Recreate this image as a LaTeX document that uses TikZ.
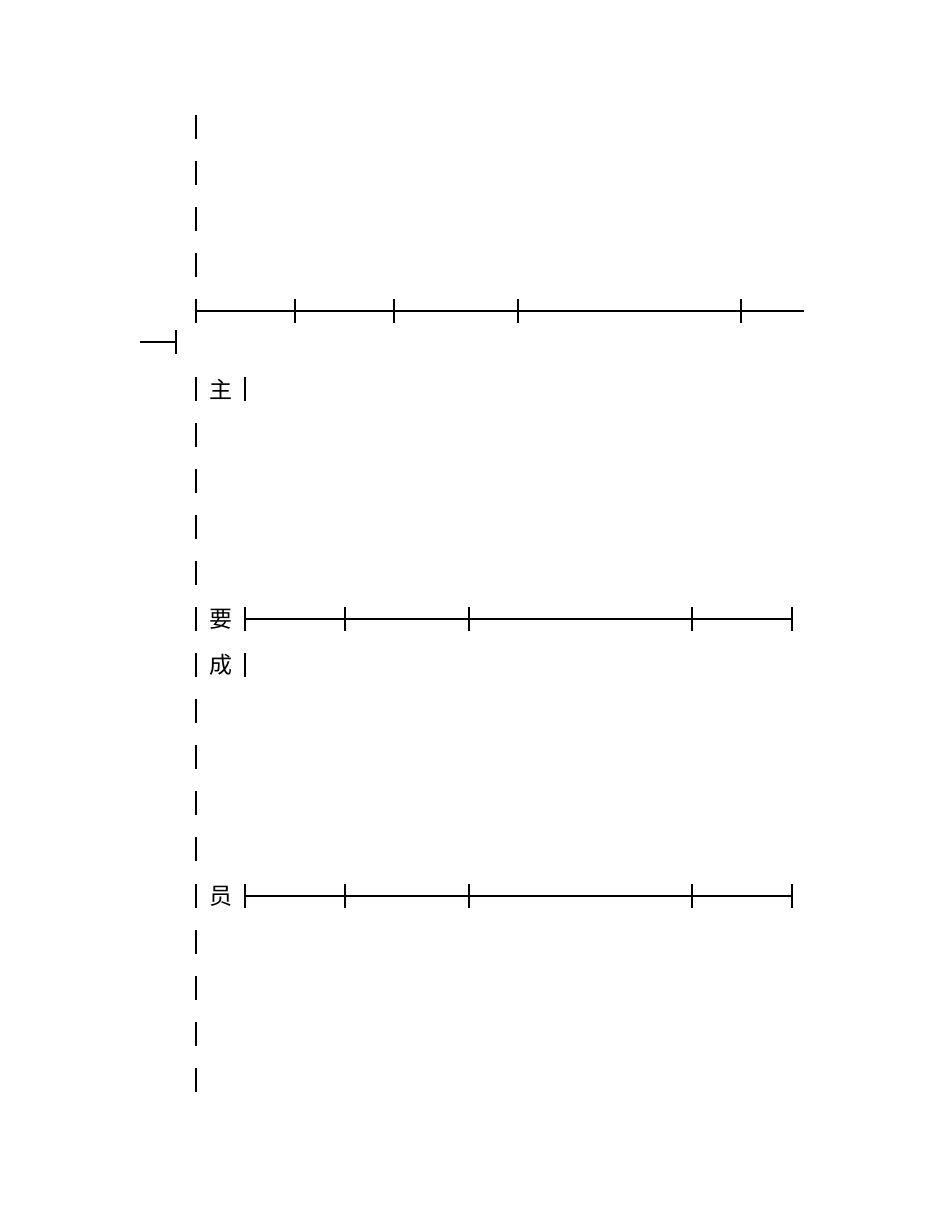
\documentclass[tikz,border=0pt]{standalone}
\usepackage{fontspec}
\newfontfamily\cjk{Noto Sans CJK SC}

\begin{document}
\begin{tikzpicture}[
  x=1pt, y=-1pt,
  bar/.style={line width=1.6pt},
  rule/.style={line width=1.6pt},
  cell/.style={font=\cjk\fontsize{23}{23}\selectfont, inner sep=0pt}
]
\useasboundingbox (0,0) rectangle (950,1230);

% top rows
\draw[bar] (196,115) -- (196,139);
\draw[bar] (196,161) -- (196,185);
\draw[bar] (196,207) -- (196,231);
\draw[bar] (196,253) -- (196,277);

% first ruled row
\coordinate (r1a) at (196,311);
\coordinate (r1b) at (804,311);
\draw[rule] (r1a) -- (r1b);
\draw[bar] (196,299) -- (196,323);
\draw[bar] (295,299) -- (295,323);
\draw[bar] (394,299) -- (394,323);
\draw[bar] (518,299) -- (518,323);
\draw[bar] (741,299) -- (741,323);

\coordinate (r0a) at (140,342);
\coordinate (r0b) at (176,342);
\draw[rule] (r0a) -- (r0b);
\draw[bar] (176,330) -- (176,354);

% zhu
\node[cell] (zhu) at (221,389) {主};
\draw[bar] (196,377) -- (196,401);
\draw[bar] (245,377) -- (245,401);

\draw[bar] (196,423) -- (196,447);
\draw[bar] (196,469) -- (196,493);
\draw[bar] (196,515) -- (196,539);
\draw[bar] (196,561) -- (196,585);

% yao
\node[cell] (yao) at (221,619) {要};
\draw[bar] (196,607) -- (196,631);
\coordinate (r2a) at (245,619);
\coordinate (r2b) at (792,619);
\draw[rule] (r2a) -- (r2b);
\draw[bar] (245,607) -- (245,631);
\draw[bar] (345,607) -- (345,631);
\draw[bar] (469,607) -- (469,631);
\draw[bar] (692,607) -- (692,631);
\draw[bar] (792,607) -- (792,631);

% cheng
\node[cell] (cheng) at (221,665) {成};
\draw[bar] (196,653) -- (196,677);
\draw[bar] (245,653) -- (245,677);

\draw[bar] (196,699) -- (196,723);
\draw[bar] (196,745) -- (196,769);
\draw[bar] (196,791) -- (196,815);
\draw[bar] (196,837) -- (196,861);

% yuan
\node[cell] (yuan) at (221,896) {员};
\draw[bar] (196,884) -- (196,908);
\coordinate (r3a) at (245,896);
\coordinate (r3b) at (792,896);
\draw[rule] (r3a) -- (r3b);
\draw[bar] (245,884) -- (245,908);
\draw[bar] (345,884) -- (345,908);
\draw[bar] (469,884) -- (469,908);
\draw[bar] (692,884) -- (692,908);
\draw[bar] (792,884) -- (792,908);

\draw[bar] (196,930) -- (196,954);
\draw[bar] (196,976) -- (196,1000);
\draw[bar] (196,1022) -- (196,1046);
\draw[bar] (196,1068) -- (196,1092);

\end{tikzpicture}
\end{document}
